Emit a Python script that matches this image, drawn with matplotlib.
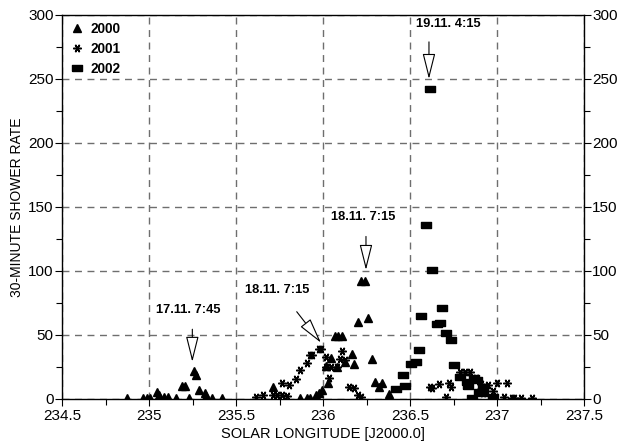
import matplotlib
matplotlib.use("Agg")
import matplotlib.pyplot as plt
from matplotlib.ticker import MultipleLocator

plt.rcParams['font.family'] = ['Liberation Sans', 'DejaVu Sans']

x2000 = [234.874, 234.965, 234.986, 235.006, 235.046, 235.056, 235.087, 235.107, 235.157, 235.188,
         235.208, 235.228, 235.259, 235.269, 235.289, 235.319, 235.329, 235.360, 235.420, 235.714,
         235.865, 235.906, 235.926, 235.957, 235.977, 235.997, 236.027, 236.017, 236.048, 236.078,
         236.068, 236.088, 236.108, 236.128, 236.169, 236.179, 236.199, 236.260, 236.220, 236.240,
         236.280, 236.300, 236.321, 236.341, 236.381]
y2000 = [1, 1, 1, 1, 5.5, 3.5, 1.5, 1.5, 1, 10.2,
         10.2, 1, 21.6, 19.1, 7, 4.5, 2.5, 1, 1, 9,
         1, 1, 1, 3.2, 5, 7, 12.2, 25.6, 32.3, 25.3,
         49.2, 49.2, 49.2, 29.1, 34.9, 27.1, 60.4, 63, 92.5, 92.5,
         31.2, 13.5, 9.5, 12.2, 3.7]

x2001 = [235.613, 235.653, 235.714, 235.734, 235.764, 235.795, 235.764, 235.805, 235.845, 235.865,
         235.906, 235.926, 235.936, 235.977, 235.987, 236.017, 236.017, 236.048, 236.078, 236.037,
         236.098, 236.108, 236.128, 236.149, 236.179, 236.199, 236.220, 236.614, 236.624, 236.664,
         236.705, 236.725, 236.735, 236.786, 236.816, 236.846, 236.877, 236.907, 236.897, 236.917,
         236.947, 236.978, 236.998, 237.059, 237.039, 237.089, 237.100, 237.140, 237.201]
y2001 = [1.3, 3.2, 3, 3, 3.5, 2.5, 12.7, 10.9, 15.3, 22.6,
         28.4, 34.3, 34.3, 38.7, 38.7, 32.6, 25.1, 25.1, 25.1, 16.5,
         31.6, 37.7, 30.6, 9.5, 8.5, 3.2, 1.8, 9.5, 8.3, 11.7,
         1.8, 12.2, 9.1, 21.1, 21.1, 21.1, 16.1, 11.7, 5.7, 4.5,
         10.9, 6.5, 12.2, 12.2, 1.4, 1, 1, 0.5, 0.5]

x2002 = [236.422, 236.462, 236.472, 236.503, 236.533, 236.553, 236.563, 236.594, 236.614, 236.624,
         236.654, 236.674, 236.684, 236.705, 236.735, 236.755, 236.786, 236.826, 236.836, 236.856,
         236.866, 236.887, 236.897, 236.917, 236.917, 236.978]
y2002 = [7.5, 18.5, 10, 27.1, 29.1, 38.2, 64.8, 136.2, 241.8, 101,
         58.4, 59.1, 70.8, 51.3, 46.1, 26.6, 17.5, 13.5, 10.2, 1,
         16.1, 14.8, 5.2, 4.5, 9.5, 1.5]

ann_text = ["19.11. 4:15", "18.11. 7:15", "18.11. 7:15", "17.11. 7:45"]
ann_tip = [(236.609, 250), (236.247, 100.8), (235.988, 44), (235.249, 29)]
ann_tail = [(236.609, 279), (236.247, 127), (235.849, 68.2), (235.249, 54.5)]
ann_label = [(236.72, 293), (236.23, 142), (235.736, 85), (235.224, 69.5)]

fig = plt.figure(figsize=(6.18, 4.45), dpi=100)
ax = fig.add_axes([62/618, 46/445, 522/618, 384/445])

ax.plot(x2000, y2000, linestyle='none', marker='^', color='black', markersize=5.3, label='2000', zorder=3)
ax.plot(x2001, y2001, linestyle='none', marker=(6, 2, 90), color='black', markersize=6,
        markeredgewidth=1.1, label='2001', zorder=3)
rect = [(-1, -0.55), (1, -0.55), (1, 0.55), (-1, 0.55), (-1, -0.55)]
ax.plot(x2002, y2002, linestyle='none', marker=rect, color='black', markersize=6.8, label='2002', zorder=3)

for t, tip, tail, lab in zip(ann_text, ann_tip, ann_tail, ann_label):
    ax.annotate('', xy=tip, xytext=tail,
                arrowprops=dict(arrowstyle='-|>,head_length=1.6,head_width=0.4',
                                mutation_scale=10, fc='white', ec='black', lw=0.8,
                                shrinkA=0, shrinkB=0), zorder=4)
    ax.text(lab[0], lab[1], t, ha='center', va='center', fontsize=9.3, fontweight='bold', zorder=5)

ax.set_xlim(234.5, 237.5)
ax.set_ylim(0, 300)
ax.xaxis.set_major_locator(MultipleLocator(0.5))
ax.xaxis.set_minor_locator(MultipleLocator(0.25))
ax.yaxis.set_major_locator(MultipleLocator(50))
ax.yaxis.set_minor_locator(MultipleLocator(25))
ax.set_xticklabels([], minor=True)
ax.xaxis.set_major_formatter(plt.FuncFormatter(lambda v, p: f"{v:g}"))
ax.tick_params(axis='both', which='major', direction='out', length=5, width=0.8, labelsize=11, pad=1)
ax.tick_params(axis='x', which='major', pad=2)
ax.tick_params(axis='both', which='minor', direction='out', length=4, width=0.8)
ax.tick_params(axis='y', which='both', right=True, labelright=True)
ax.grid(True, which='major', linestyle=(0, (5, 4)), color='#6e6e6e', linewidth=1.0)
for s in ax.spines.values():
    s.set_linewidth(1.0)

ax.set_xlabel('SOLAR LONGITUDE [J2000.0]', fontsize=10.5, labelpad=3)
ax.set_ylabel('30-MINUTE SHOWER RATE', fontsize=10, labelpad=3)

leg = ax.legend(loc='upper left', frameon=False, prop={'weight': 'bold', 'size': 9.8},
                handletextpad=0.4, borderaxespad=0.1, labelspacing=0.45, handlelength=1.2,
                bbox_to_anchor=(0.0, 1.0))

fig.savefig('out.png', dpi=100)
